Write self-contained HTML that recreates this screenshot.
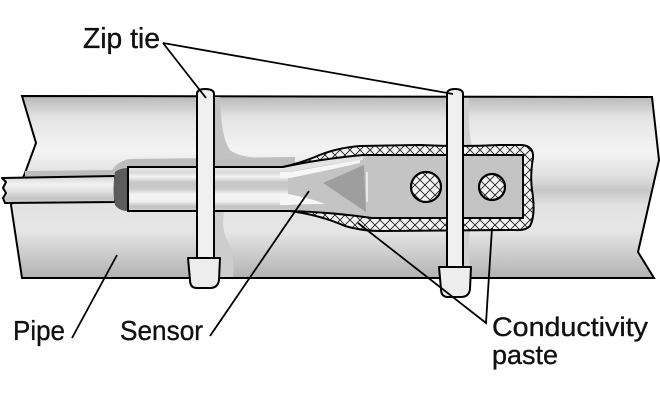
<!DOCTYPE html>
<html><head><meta charset="utf-8"><style>
html,body{margin:0;padding:0;background:#fff;}
svg{display:block;}
text{font-family:"Liberation Sans",Arial,sans-serif;fill:#111;stroke:#111;stroke-width:0.35;}
</style></head><body>
<svg width="660" height="400" viewBox="0 0 660 400" xmlns="http://www.w3.org/2000/svg">
<defs>
<linearGradient id="pipeG" gradientUnits="userSpaceOnUse" x1="0" y1="96" x2="0" y2="278">
<stop offset="0" stop-color="#b8b8b8"/>
<stop offset="0.12" stop-color="#e4e4e4"/>
<stop offset="0.3" stop-color="#f4f4f4"/>
<stop offset="0.45" stop-color="#dedede"/>
<stop offset="0.52" stop-color="#c6c6c6"/>
<stop offset="0.6" stop-color="#e2e2e2"/>
<stop offset="0.74" stop-color="#e6e6e6"/>
<stop offset="1" stop-color="#b2b2b2"/>
</linearGradient>
<linearGradient id="cableG" gradientUnits="userSpaceOnUse" x1="0" y1="176" x2="0" y2="204">
<stop offset="0" stop-color="#d4d4d4"/>
<stop offset="0.3" stop-color="#f2f2f2"/>
<stop offset="0.55" stop-color="#e0e0e0"/>
<stop offset="0.8" stop-color="#c4c4c4"/>
<stop offset="1" stop-color="#d8d8d8"/>
</linearGradient>
<linearGradient id="tubeG" gradientUnits="userSpaceOnUse" x1="0" y1="167" x2="0" y2="211">
<stop offset="0" stop-color="#ececec"/>
<stop offset="0.12" stop-color="#d8d8d8"/>
<stop offset="0.22" stop-color="#f4f4f4"/>
<stop offset="0.35" stop-color="#c6c6c6"/>
<stop offset="0.5" stop-color="#cacaca"/>
<stop offset="0.62" stop-color="#f4f4f4"/>
<stop offset="0.78" stop-color="#f0f0f0"/>
<stop offset="0.9" stop-color="#c2c2c2"/>
<stop offset="1" stop-color="#d0d0d0"/>
</linearGradient>
<pattern id="hatch" patternUnits="userSpaceOnUse" width="10" height="10">
<rect width="10" height="10" fill="#f4f4f4"/>
<path d="M0,0 L10,10 M10,0 L0,10" stroke="#222" stroke-width="0.9"/>
</pattern>
</defs>

<!-- pipe -->
<path d="M22,96 L652,97 L659,160 L638,252 L654,278 L22,278 L11,205 L25,173 L36,143 Z" fill="url(#pipeG)" stroke="#000" stroke-width="2" stroke-linejoin="miter"/>

<!-- shadows -->
<path d="M25,177 L25,171 L112,170 Q118,161 130,159 L295,157 L295,170 L128,170 L115,177 Z" fill="#bdbdbd"/>
<path d="M214,97 L220,97 Q221,138 230,150 Q238,157 262,158 L214,160 Z" fill="#c2c2c2"/>
<path d="M214,212 L224,212 Q221,230 228,242 Q235,255 233,277 L214,277 Z" fill="#cdcdcd"/>
<path d="M463,98 L469,98 Q468,130 472,146 L463,146 Z" fill="#d0d0d0"/>
<path d="M463,230 L470,230 Q467,250 471,276 L463,276 Z" fill="#d0d0d0"/>

<!-- cable -->
<path d="M2,178 L115,176 L115,202 L5,203 L3,198 L6,193 L3,188 L6,182 Z" fill="url(#cableG)" stroke="#000" stroke-width="2" stroke-linejoin="round"/>
<!-- dark cap -->
<path d="M115,172 Q120,168 128,168 L128,211 Q119,211 115,205 Q112,190 115,172 Z" fill="#5c5c5c"/>

<!-- paste -->
<path d="M283,167 Q300,163 315,157 Q335,148 360,146 L420,145 Q460,147 500,145 L522,145 Q534,146 533,158 Q530,175 532,190 Q536,215 530,226 Q525,231 515,230 L380,231 Q362,231 345,226 Q320,215 290,211 Z" fill="url(#hatch)" stroke="#000" stroke-width="2"/>

<!-- sensor -->
<path d="M128,167 L283,167 Q320,159 363,155 L523,155 L523,218 L372,218 Q330,212 290,211 L128,211 Z" fill="#c4c4c4"/>
<rect x="128" y="167" width="160" height="44" fill="url(#tubeG)"/>
<path d="M288,167 Q320,159 363,155 L363,160 Q330,164 288,172 Z" fill="#e2e2e2"/>
<path d="M280,172 L290,172 Q330,165 360,160 L360,163 Q320,172 290,178 L280,178 Z" fill="#f6f6f6"/>
<path d="M280,194 L288,194 Q310,198 325,204 Q300,204 288,205 L280,205 Z" fill="#f6f6f6"/>
<path d="M323,183 L364,165 L366,212 Z" fill="#9e9e9e"/>
<path d="M367,172 L367,202" stroke="#f4f4f4" stroke-width="1.5"/>
<path d="M128,167 L283,167 Q320,159 363,155 L523,155 L523,218 L372,218 Q330,212 290,211 L128,211 Z" fill="none" stroke="#000" stroke-width="2"/>
<!-- holes -->
<circle cx="426" cy="187" r="15" fill="url(#hatch)" stroke="#000" stroke-width="2.2"/>
<circle cx="492" cy="187" r="13" fill="url(#hatch)" stroke="#000" stroke-width="2.2"/>

<!-- zip tie 1 -->
<path d="M197,258 L197,94 Q197,89 205,89 Q214,89 214,94 L214,258 Z" fill="#f0f0f0" stroke="#000" stroke-width="2"/>
<path d="M188,258 L220,258 L219,280 Q218,288 210,288 L197,288 Q190,288 190,280 Z" fill="#ededed" stroke="#000" stroke-width="2" stroke-linejoin="round"/>
<!-- zip tie 2 -->
<path d="M447,267 L447,94 Q447,89 455,89 Q463,89 463,94 L463,267 Z" fill="#f0f0f0" stroke="#000" stroke-width="2"/>
<path d="M439,267 L471,267 L470,289 Q469,297 461,297 L448,297 Q441,297 441,289 Z" fill="#ededed" stroke="#000" stroke-width="2" stroke-linejoin="round"/>

<!-- leader lines -->
<g stroke="#000" stroke-width="1.8" fill="none">
<path d="M163,43 L206,98"/>
<path d="M163,43 L453,94"/>
<path d="M117,255 L72,338"/>
<path d="M309,191 L210,336"/>
<path d="M358,223 L486,323 L492,228"/>
</g>

<!-- labels -->
<text x="83" y="48" font-size="29" textLength="77" lengthAdjust="spacingAndGlyphs">Zip tie</text>
<text x="13" y="340" font-size="28" textLength="52" lengthAdjust="spacingAndGlyphs">Pipe</text>
<text x="120" y="340" font-size="28" textLength="83" lengthAdjust="spacingAndGlyphs">Sensor</text>
<text x="492" y="336" font-size="27" textLength="156" lengthAdjust="spacingAndGlyphs">Conductivity</text>
<text x="492" y="364" font-size="27" textLength="66" lengthAdjust="spacingAndGlyphs">paste</text>
</svg>
</body></html>
